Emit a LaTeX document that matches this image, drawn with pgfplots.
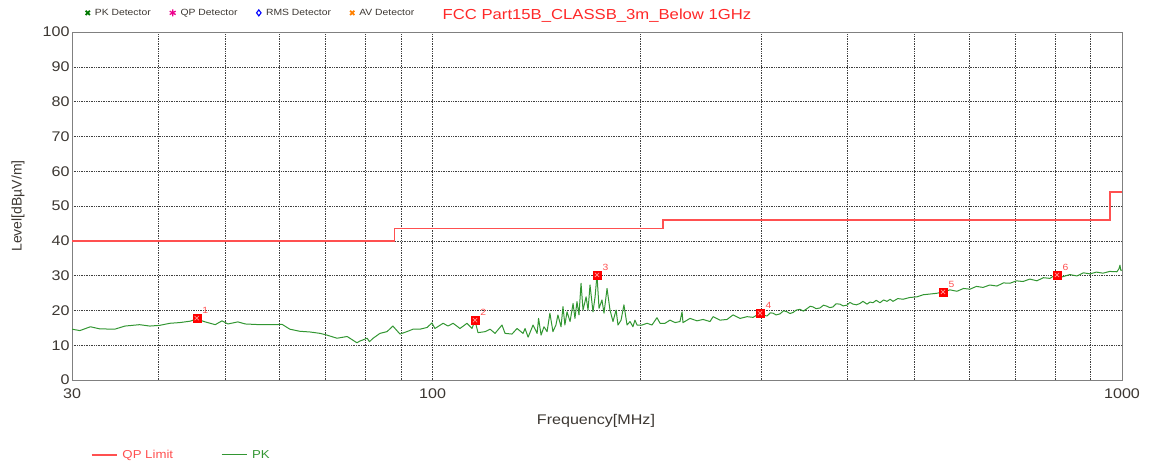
\documentclass[border=0pt]{standalone}
\usepackage{fontspec}
\setmainfont{Liberation Sans}[FakeStretch=1.15]
\newfontfamily\plainfont{Liberation Sans}
\usepackage{pgfplots}
\pgfplotsset{compat=1.18}
\definecolor{limred}{RGB}{255,80,80}
\definecolor{titred}{RGB}{255,40,40}
\definecolor{pkgreen}{RGB}{50,150,50}
\definecolor{darkgreen}{RGB}{0,120,0}
\definecolor{txt}{RGB}{60,55,50}

\pgfplotstableread{
f L
30.0 40
88 40
88 43.5
216 43.5
216 46
960 46
960 54
1000 54
}\limit

\pgfplotstableread{
f L
30.0 14.6
30.8 14.2
31.9 15.3
32.9 14.7
34.6 14.6
35.8 15.5
37.6 15.9
38.9 15.5
40.2 15.7
41.6 16.3
43.0 16.5
44.5 16.9
45.5 17.5
46.8 16.7
48.4 15.9
49.5 17.0
50.5 16.1
52.2 16.7
53.5 16.1
56.2 15.9
59.1 15.9
60.5 16.0
62.1 14.6
64.2 14.0
66.4 13.8
68.7 13.4
70.3 12.9
72.7 12.0
75.2 12.5
77.7 10.7
78.5 11.2
80.4 12.0
81.0 11.0
82.0 12.0
83.9 13.4
85.9 13.9
87.6 15.5
89.7 13.2
91.8 13.9
93.7 14.6
95.9 14.6
98.2 15.1
99.8 16.4
100.8 14.8
103.6 16.3
105.3 15.5
107.1 16.3
109.6 14.8
112.2 16.3
114.1 14.8
115.2 17.2
116.4 13.6
119.2 13.9
121.2 14.6
123.2 13.4
126.1 15.8
127.4 13.4
130.4 13.2
132.6 14.8
135.3 13.4
136.2 14.8
137.6 12.3
139.9 15.8
141.8 13.4
142.5 17.7
143.7 12.9
145.1 15.3
146.6 13.9
148.0 19.2
149.5 13.9
151.0 15.8
152.0 18.7
153.6 15.3
154.6 21.1
155.6 15.8
156.7 19.6
158.3 16.8
159.9 22.0
160.9 17.7
162.0 22.5
163.1 18.7
164.2 27.8
165.3 20.1
167.0 23.9
168.1 20.1
169.2 27.3
170.9 19.6
172.1 23.9
173.2 30.2
174.4 20.6
176.1 23.0
177.3 19.2
179.1 26.3
180.9 20.1
182.7 16.8
184.6 20.1
185.8 15.8
187.7 17.2
189.5 21.6
191.5 15.8
193.4 16.8
195.3 15.3
196.6 17.2
198.0 15.8
201.3 15.8
204.7 16.3
208.1 15.8
211.6 17.9
213.8 16.3
217.4 16.3
221.0 17.2
224.8 16.5
228.5 16.8
230.1 19.6
230.8 16.5
236.3 17.7
241.9 17.0
246.8 17.4
252.6 16.8
255.2 18.2
261.2 17.2
267.4 17.4
272.8 18.7
279.3 17.7
285.9 18.2
291.7 18.0
298.5 19.2
302 18.6
305.6 18.4
309 19.3
311.8 19.2
315 18.7
319.1 19.0
323 19.9
326.7 19.6
330 19.1
333.3 19.4
337 20.1
341.2 20.3
345 19.8
349.2 20.5
353 21.2
356.3 21.0
360 20.5
364.7 20.7
369 21.5
373.4 21.2
377 20.8
380.9 21.0
385 21.9
389.9 21.8
394 21.3
399.1 21.5
403 22.3
407.2 21.8
412 21.6
416.9 22.0
421 22.6
426.7 21.8
431 22.4
435.3 22.2
440 22.9
445.6 22.2
451 23.0
456.2 22.6
461 23.2
465.4 22.6
473 23.4
481.2 23.2
492 23.7
504.2 23.9
515 24.5
526.6 24.7
538 24.9
550.0 25.3
563 25.9
576.3 25.5
589 26.3
601.9 26.1
615 26.9
628.6 26.6
643 27.3
658.6 27.0
673 27.9
687.9 27.8
703 28.5
718.4 28.3
735 29.0
752.7 28.5
769 29.4
786.2 29.2
795 29.8
804.8 30.0
813 29.5
821.1 29.7
840 30.3
860.3 29.9
879 30.8
898.5 30.5
918 31.0
938.3 30.7
960 31.2
983.2 31.1
990 32.0
993.1 33.0
996 31.5
1000 31.6
}\pk

\pgfplotstableread{
f L lab
45.5 17.8 1
115.2 17.2 2
173.2 30.2 3
298.5 19.2 4
550.0 25.3 5
804.8 30.2 6
}\markers

\begin{document}
\begin{tikzpicture}
\useasboundingbox (0,0) rectangle (1149pt,466pt);
\begin{axis}[
  at={(72pt,86pt)}, anchor=south west,
  scale only axis, width=1050pt, height=348pt,
  xmode=log, xmin=30, xmax=1000, ymin=0, ymax=100,
  xtick={30,100,1000}, xticklabels={30,100,1000},
  minor xtick={40,50,60,70,80,90,200,300,400,500,600,700,800,900},
  ytick={0,10,...,100},
  /pgf/number format/assume math mode=true,
  grid=both,
  major grid style={black!75, dash pattern=on 0.8pt off 0.9pt, line width=0.55pt},
  minor grid style={black!75, dash pattern=on 0.8pt off 0.9pt, line width=0.55pt},
  axis line style={black!50, line width=0.8pt},
  tick style={draw=none},
  ticklabel style={font=\fontsize{14}{16}\selectfont, text=txt},
  xticklabel style={yshift=-5pt},
  yticklabel style={xshift=1pt},
  xlabel={Frequency[MHz]},
  xlabel style={at={(axis description cs:0.499,-0.118)}, anchor=center, font=\fontsize{14}{16}\selectfont, text=txt},
  ylabel={Level[dBµV/m]},
  ylabel style={at={(axis description cs:-0.0514,0.5)}, anchor=center, font=\plainfont\fontsize{14}{16}\selectfont, text=txt},
  title={FCC Part15B\_CLASSB\_3m\_Below 1GHz},
  title style={at={(axis description cs:0.5,1.029)}, anchor=center, font=\fontsize{14.5}{16}\selectfont, text=titred},
  legend style={draw=none, fill=none, at={(axis description cs:0.015,-0.215)}, anchor=west,
    font=\fontsize{11.5}{13}\selectfont, /tikz/every even column/.append style={column sep=46pt},
    /tikz/every odd column/.append style={column sep=3pt}},
  legend columns=2,
  legend image code/.code={\draw[#1] (0pt,0pt) -- (25pt,0pt);},
]
\addplot[limred, line width=1.5pt] table[x=f,y=L] {\limit};
\addlegendentry{\textcolor{limred}{QP Limit}}
\addplot[pkgreen, line width=1pt, line join=round] table[x=f,y=L] {\pk};
\addlegendentry{\textcolor{pkgreen}{PK}}
\addplot[forget plot, only marks, mark=square*, mark size=4pt, draw=red, fill=red,
  nodes near coords, point meta=explicit symbolic,
  every node near coord/.append style={anchor=south west, xshift=2pt, yshift=1pt, font=\fontsize{9}{10}\selectfont, text=limred}]
  table[x=f,y=L,meta=lab] {\markers};
\addplot[forget plot, only marks, mark=x, mark size=3pt, draw=white!60!red, line width=0.7pt] table[x=f,y=L] {\markers};
\end{axis}
\begin{axis}[
  at={(72pt,86pt)}, anchor=south west,
  scale only axis, width=1050pt, height=348pt,
  hide axis, xmin=0, xmax=1, ymin=0, ymax=1,
  legend style={draw=none, fill=none, at={(axis description cs:0.010,1.055)}, anchor=west,
    font=\fontsize{9}{10}\selectfont, text=txt,
    /tikz/every even column/.append style={column sep=17pt},
    /tikz/every odd column/.append style={column sep=3pt}},
  legend columns=4,
  legend image code/.code={\draw[#1] plot coordinates {(3pt,0pt)};},
]
\addlegendimage{only marks, mark=x, mark size=3pt, draw=darkgreen, line width=1.8pt}
\addlegendentry{PK Detector}
\addlegendimage{only marks, mark=asterisk, mark size=3.4pt, draw=magenta, line width=1.3pt}
\addlegendentry{QP Detector}
\addlegendimage{only marks, mark=diamond, mark size=3pt, draw=blue, line width=1.1pt}
\addlegendentry{RMS Detector}
\addlegendimage{only marks, mark=x, mark size=3pt, draw=orange, line width=1.8pt}
\addlegendentry{AV Detector}
\end{axis}
\end{tikzpicture}
\end{document}
